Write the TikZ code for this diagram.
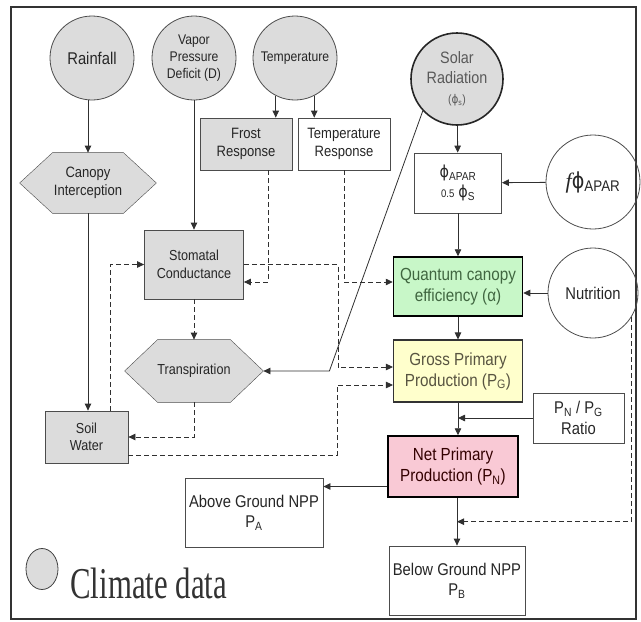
\documentclass[tikz,border=0pt]{standalone}
\usepackage{fontspec}
\setmainfont[FakeStretch=0.87]{Liberation Sans}
\newfontfamily\legendfont[FakeStretch=0.7]{Liberation Serif}
\newfontfamily\italfont{Liberation Serif}
\newfontfamily\phifont[FakeStretch=0.87]{DejaVu Sans}
\usetikzlibrary{arrows.meta,calc,backgrounds,shapes.geometric}

\definecolor{climgray}{HTML}{DCDCDC}
\definecolor{qgreen}{HTML}{C8F7C8}
\definecolor{gyellow}{HTML}{FFFFCC}
\definecolor{npink}{HTML}{F9C9D5}
\definecolor{linegray}{HTML}{303030}
\newcommand{\fsz}[1]{\fontsize{#1}{\fpeval{1.2*#1}}\selectfont}
\newcommand{\ph}{{\phifont ϕ}}

\begin{document}
\begin{tikzpicture}[x=1pt,y=-1pt,line width=0.8pt,
  every node/.style={align=center,inner sep=1pt,text=black!85},
  clim/.style={circle,draw=black!70,fill=climgray},
  inbox/.style={rectangle,draw=black!70},
  flow/.style={draw=linegray,-{Triangle[length=7pt,width=6.5pt]}},
  ctrl/.style={flow,dash pattern=on 5pt off 3pt}]
\useasboundingbox (0,0) rectangle (641,622);
% Frame
\draw[line width=1.6pt,black!80] (11,7) rectangle (636,619);
% Climate inputs
\node[clim,minimum size=84pt,font=\fsz{17}] (rain) at (92,58) {Rainfall};
\node[clim,minimum size=84pt,font=\fsz{14}] (vpd) at (194,58) {Vapor\\Pressure\\Deficit (D)};
\node[clim,minimum size=84pt,font=\fsz{14}] (temp) at (295,58) {Temperature};
\node[clim,draw=black!85,line width=1.6pt,minimum size=92pt,font=\fsz{16.5},text=black!65] (solar) at (457,79)
  {Solar\\Radiation\\{\fsz{12}(\ph\textsubscript{s})}};
% Water side
\node[inbox,fill=climgray,minimum width=92pt,minimum height=52pt,font=\fsz{15}] (frost) at (246,144) {Frost\\Response};
\node[inbox,minimum width=92pt,minimum height=52pt,font=\fsz{15}] (tresp) at (344,144) {Temperature\\Response};
\node[minimum width=136pt,minimum height=60pt,font=\fsz{15}] (ci) at (88,183) {Canopy\\Interception};
\node[inbox,fill=climgray,minimum width=99pt,minimum height=69pt,font=\fsz{14.5}] (stom) at (194,264.5) {Stomatal\\Conductance};
\node[minimum width=138pt,minimum height=62pt,font=\fsz{14.5}] (tr) at (194,371) {Transpiration};
\node[inbox,fill=climgray,minimum width=83pt,minimum height=52pt,font=\fsz{14.5}] (soil) at (86.5,437) {Soil\\Water};
% Carbon side
\node[inbox,minimum width=87pt,minimum height=60pt,font=\fsz{16.5}] (phi) at (458,183)
  {\ph\textsubscript{APAR}\\{\fsz{11}0.5} \ph\textsubscript{S}};
\node[circle,draw=black!70,minimum size=94pt,font=\fsz{22}] (fphi) at (593,182)
  {{\italfont\itshape f}\ph\textsubscript{APAR}};
\node[inbox,draw=black,line width=1.5pt,fill=qgreen,minimum width=129pt,minimum height=59pt,font=\fsz{17.5},text=green!20!black!75] (quant) at (458,286.5)
  {Quantum canopy\\efficiency (α)};
\node[circle,draw=black!70,minimum size=90pt,font=\fsz{17}] (nutr) at (593,293) {Nutrition};
\node[inbox,draw=black!80,line width=1.1pt,fill=gyellow,minimum width=129pt,minimum height=62pt,font=\fsz{17.5},text=black!65!yellow!70!black] (gpp) at (458,371)
  {Gross Primary\\Production (P\textsubscript{G})};
\node[inbox,minimum width=91pt,minimum height=50pt,font=\fsz{17}] (ratio) at (578.5,418)
  {P\textsubscript{N} / P\textsubscript{G}\\Ratio};
\node[inbox,draw=black,line width=1.5pt,fill=npink,minimum width=130pt,minimum height=61pt,font=\fsz{17.5},text=black!80!red] (npp) at (453,466.5)
  {Net Primary\\Production (P\textsubscript{N})};
\node[inbox,minimum width=138pt,minimum height=69pt,font=\fsz{17}] (above) at (254,512.5) {Above Ground NPP\\P\textsubscript{A}};
\node[inbox,minimum width=136pt,minimum height=69pt,font=\fsz{17}] (below) at (457,580.5) {Below Ground NPP\\P\textsubscript{B}};
% Hexagons behind their labels
\begin{scope}[on background layer]
\foreach \h in {ci,tr}
  \draw[draw=black!70,fill=climgray] (\h.west) -- ([xshift=33pt]\h.north west) -- ([xshift=-33pt]\h.north east)
    -- (\h.east) -- ([xshift=-33pt]\h.south east) -- ([xshift=33pt]\h.south west) -- cycle;
\end{scope}
% Legend
\node[ellipse,draw=black!75,fill=climgray,minimum width=32pt,minimum height=41pt] (legc) at (42,569) {};
\node[anchor=base west,font=\legendfont\fontsize{44}{44}\selectfont,text=black!80] (legt) at (69,598) {Climate data};
% Solid flows
\draw[flow] (rain.south -| ci) -- (ci);
\draw[flow] (ci) -- (ci |- soil.north);
\draw[flow] (vpd) -- (stom);
\draw[flow] (temp.243) -- (temp.243 |- frost.north);
\draw[flow] (temp.297) -- (temp.297 |- tresp.north);
\draw[flow] (solar) -- (phi);
\draw[flow] (fphi) -- (phi);
\draw[flow] (phi) -- (quant);
\draw[flow] (nutr) -- (nutr -| quant.east);
\draw[flow] (quant) -- (gpp);
\draw[flow] (gpp) -- (npp.north -| gpp);
\draw[flow] (ratio.west) -- (ratio.west -| gpp);
\draw[flow] ([yshift=-20pt]npp.west) -- ([yshift=-20pt]npp.west -| above.east);
\draw[flow] (npp.south -| below) -- (below);
\draw[flow] (solar.223) -- ($(tr.east)+(66,0)$) -- (tr.east);
% Dashed controls
\draw[ctrl] ([xshift=22pt]frost.south) |- ([yshift=-17.5pt]stom.east);
\draw[ctrl] (tresp.south) |- ([yshift=4.5pt]quant.west);
\draw[ctrl] (stom.east) -- ++(94,0) |- ([yshift=4pt]gpp.west);
\draw[ctrl] (stom) -- (tr);
\draw[ctrl] (tr.south) |- (soil.east);
\draw[ctrl] ([xshift=23.5pt]soil.north) |- (stom.west);
\draw[ctrl] ([yshift=-18pt]soil.east) -- ++(209,0) |- ([yshift=-14pt]gpp.west);
\draw[ctrl] (nutr.328) |- ($(npp.south -| below)!.5!(below.north)$);
\end{tikzpicture}
\end{document}
